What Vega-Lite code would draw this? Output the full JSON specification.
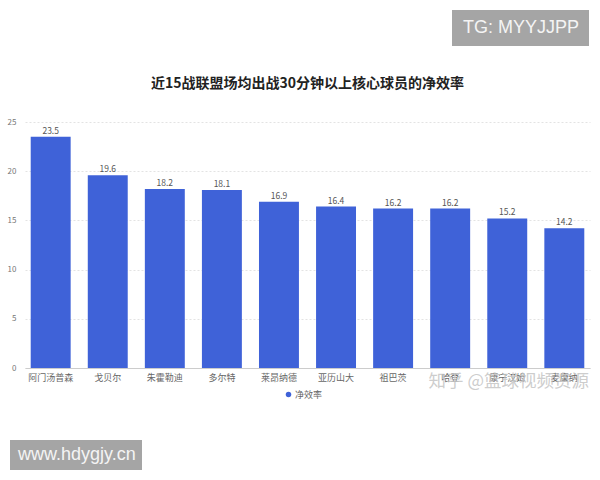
{
  "$schema": "https://vega.github.io/schema/vega-lite/v6.json",
  "width": 565,
  "height": 246,
  "autosize": "none",
  "padding": {"left": 25, "top": 122, "right": 10, "bottom": 112},
  "background": "#ffffff",
  "title": {
    "text": "近15战联盟场均出战30分钟以上核心球员的净效率",
    "font": "Noto Sans CJK SC",
    "fontSize": 14,
    "fontWeight": "bold",
    "color": "#222222",
    "anchor": "middle",
    "frame": "group",
    "offset": -81
  },
  "datasets": {
    "players": [
      {"player": "阿门汤普森", "net": 23.5},
      {"player": "戈贝尔", "net": 19.6},
      {"player": "朱霍勒迪", "net": 18.2},
      {"player": "多尔特", "net": 18.1},
      {"player": "莱昂纳德", "net": 16.9},
      {"player": "亚历山大", "net": 16.4},
      {"player": "祖巴茨", "net": 16.2},
      {"player": "哈登", "net": 16.2},
      {"player": "康宁汉姆", "net": 15.2},
      {"player": "麦康纳", "net": 14.2}
    ],
    "marks": [
      {"tg": "TG: MYYJJPP", "site": "www.hdygjy.cn", "zh": "知乎 @篮球视频资源"}
    ]
  },
  "layer": [
    {
      "data": {"name": "players"},
      "mark": {"type": "bar", "color": "#3f62d8"},
      "encoding": {
        "x": {
          "field": "player",
          "type": "nominal",
          "sort": null,
          "scale": {"paddingInner": 0.3, "paddingOuter": 0.1},
          "axis": {
            "title": null,
            "labelAngle": 0,
            "labelFont": "Noto Sans CJK SC",
            "labelFontSize": 9,
            "labelColor": "#666666",
            "labelPadding": 5,
            "ticks": false,
            "domainColor": "#cccccc"
          }
        },
        "y": {
          "field": "net",
          "type": "quantitative",
          "scale": {"domain": [0, 25], "nice": false},
          "axis": {
            "title": null,
            "values": [0, 5, 10, 15, 20, 25],
            "domain": false,
            "ticks": false,
            "labelFontSize": 8,
            "labelColor": "#777777",
            "labelPadding": 9,
            "gridColor": "#e3e3e3",
            "gridDash": [2, 2]
          }
        },
        "color": {
          "datum": "净效率",
          "scale": {"range": ["#3f62d8"]},
          "legend": {
            "title": null,
            "orient": "none",
            "legendX": 259,
            "legendY": 268,
            "symbolType": "circle",
            "symbolSize": 30,
            "labelFont": "Noto Sans CJK SC",
            "labelFontSize": 9,
            "labelColor": "#666666",
            "labelOffset": 2
          }
        }
      }
    },
    {
      "data": {"name": "players"},
      "mark": {"type": "text", "dy": -6, "fontSize": 8.5, "color": "#555555", "font": "Noto Sans CJK SC"},
      "encoding": {
        "x": {"field": "player", "type": "nominal", "sort": null},
        "y": {"field": "net", "type": "quantitative"},
        "text": {"field": "net", "type": "quantitative", "format": ".1f"}
      }
    },
    {
      "data": {"name": "marks"},
      "mark": {"type": "point", "opacity": 0},
      "encoding": {
        "shape": {
          "field": "tg",
          "type": "nominal",
          "legend": {
            "title": null,
            "orient": "none",
            "legendX": 427,
            "legendY": -112,
            "fillColor": "#a5a5a5",
            "padding": 9,
            "symbolSize": 0.0001,
            "symbolOpacity": 0,
            "symbolStrokeWidth": 0.0001,
            "labelOffset": -16,
            "labelLimit": 300,
            "labelFont": "Liberation Sans",
            "labelFontSize": 18,
            "labelColor": "#f4f4f4"
          }
        },
        "strokeDash": {
          "field": "site",
          "type": "nominal",
          "legend": {
            "title": null,
            "orient": "none",
            "legendX": -15,
            "legendY": 318,
            "fillColor": "#a5a5a5",
            "padding": 6,
            "symbolType": "circle",
            "symbolSize": 0.0001,
            "symbolOpacity": 0,
            "symbolStrokeWidth": 0.0001,
            "labelOffset": -16,
            "labelLimit": 300,
            "labelFont": "Liberation Sans",
            "labelFontSize": 18,
            "labelColor": "#f4f4f4"
          }
        },
        "size": {
          "field": "zh",
          "type": "nominal",
          "legend": {
            "title": null,
            "orient": "none",
            "legendX": 402,
            "legendY": 251,
            "padding": 0,
            "symbolSize": 0.0001,
            "symbolOpacity": 0,
            "symbolStrokeWidth": 0.0001,
            "labelOffset": -16,
            "labelLimit": 300,
            "labelFont": "Noto Sans CJK SC",
            "labelFontSize": 17.5,
            "labelColor": "#c4c4c4",
            "labelOpacity": 0.85
          }
        }
      }
    }
  ],
  "config": {
    "view": {"stroke": null},
    "font": "Noto Sans CJK SC"
  }
}
